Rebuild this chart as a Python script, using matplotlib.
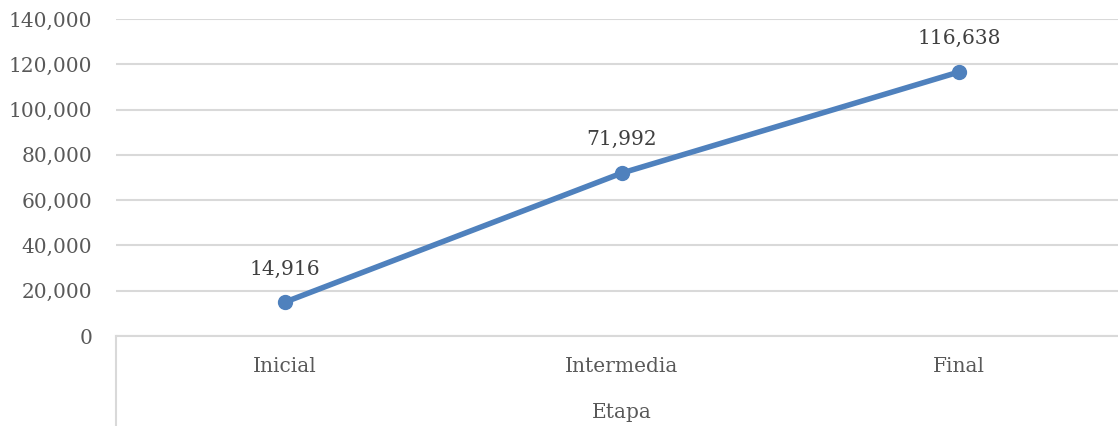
import matplotlib.pyplot as plt
from matplotlib.ticker import FuncFormatter

# data
etapas = ['Inicial', 'Intermedia', 'Final']
valores = [14916, 71992, 116638]
y_ticks = list(range(0, 140001, 20000))

plt.rcParams['font.family'] = ['DejaVu Serif']

W, H = 1118, 426
fig = plt.figure(figsize=(W / 100, H / 100), dpi=100)
# plot area runs a little past the right edge, as in the original
ax = fig.add_axes([116 / W, 90 / H, 1012 / W, 317 / H])

x = list(range(len(etapas)))
ax.plot(x, valores, color='#4F81BD', lw=4, marker='o', ms=10,
        solid_capstyle='round', zorder=3)
for xi, v in zip(x, valores):
    ax.annotate(f'{v:,}', (xi, v), xytext=(0, 17), textcoords='offset points',
                ha='center', va='bottom', fontsize=14.5, color='#404040')

ax.set_xlim(-0.5, len(etapas) - 0.5)
ax.set_ylim(0, 140000)
ax.set_yticks(y_ticks)
ax.yaxis.set_major_formatter(FuncFormatter(lambda v, p: f'{int(v):,}'))
ax.grid(axis='y', color='#D9D9D9', lw=1.5)
ax.set_axisbelow(True)

ax.set_xticks(x)
ax.set_xticklabels(etapas)
ax.tick_params(axis='x', length=0, pad=15, labelsize=14.5, labelcolor='#595959')
ax.tick_params(axis='y', length=0, pad=17, labelsize=14.5, labelcolor='#595959')

for s in ['top', 'right', 'left']:
    ax.spines[s].set_visible(False)
ax.spines['bottom'].set_color('#D9D9D9')
ax.spines['bottom'].set_linewidth(1.5)

# left divider of the category axis, reaching down to the figure bottom
ax.plot([-0.5, -0.5], [0, -0.29], transform=ax.get_xaxis_transform(),
        color='#D9D9D9', lw=1.5, clip_on=False)

ax.text(1, -0.242, 'Etapa', transform=ax.get_xaxis_transform(),
        ha='center', va='center', fontsize=14.5, color='#595959')

fig.savefig('out.png', dpi=100)
